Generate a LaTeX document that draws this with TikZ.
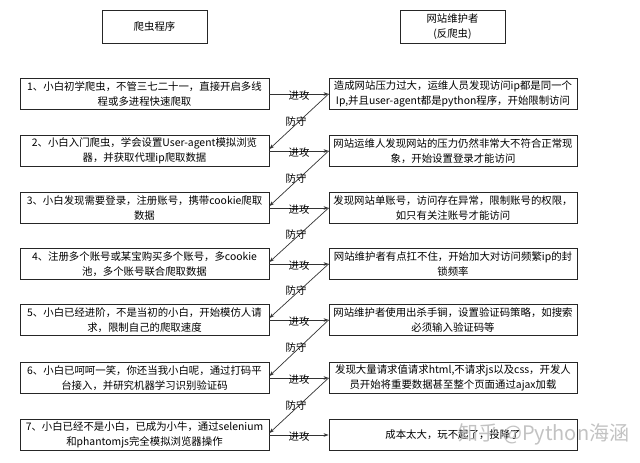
\documentclass[tikz,border=0pt]{standalone}
\usepackage{fontspec}
\setmainfont{Noto Sans CJK SC}
\usetikzlibrary{arrows.meta}
\begin{document}
\begin{tikzpicture}[x=1pt,y=-1pt,
  font=\fontsize{10.4}{14.5}\selectfont,
  box/.style={draw=black!85, line width=0.9pt, inner sep=0pt, align=center, fill=white},
  lbox/.style={box, minimum width=249pt, minimum height=31pt},
  rbox/.style={box, minimum width=248pt, minimum height=31pt},
  hbox/.style={box, minimum width=105pt, minimum height=33pt},
  conn/.style={-{Stealth[length=5pt,width=3.6pt]}, line width=0.7pt, draw=black!80},
  lab/.style={font=\fontsize{10.4}{12}\selectfont, inner sep=1pt}]
\useasboundingbox[fill=white] (0,0) rectangle (640,463);

\node[hbox] (H1) at (154.5,26.5) {爬虫程序};
\node[hbox] (H2) at (452.5,26.5) {网站维护者\\(反爬虫)};

\node[lbox] (L1) at (144.5,94) {1、小白初学爬虫，不管三七二十一，直接开启多线\\程或多进程快速爬取};
\node[rbox] (R1) at (453,94) {造成网站压力过大，运维人员发现访问ip都是同一个\\Ip,并且user-agent都是python程序，开始限制访问};

\node[lbox] (L2) at (144.5,151) {2、小白入门爬虫，学会设置User-agent模拟浏览\\器，并获取代理ip爬取数据};
\node[rbox] (R2) at (453,151) {网站运维人发现网站的压力仍然非常大不符合正常现\\象，开始设置登录才能访问};

\node[lbox] (L3) at (144.5,208) {3、小白发现需要登录，注册账号，携带cookie爬取\\数据};
\node[rbox] (R3) at (453,208) {发现网站单账号，访问存在异常，限制账号的权限，\\如只有关注账号才能访问};

\node[lbox] (L4) at (144.5,264) {4、注册多个账号或某宝购买多个账号，多cookie\\池，多个账号联合爬取数据};
\node[rbox] (R4) at (453,264) {网站维护者有点扛不住，开始加大对访问频繁ip的封\\锁频率};

\node[lbox] (L5) at (144.5,320) {5、小白已经进阶，不是当初的小白，开始模仿人请\\求，限制自己的爬取速度};
\node[rbox] (R5) at (453,320) {网站维护者使用出杀手锏，设置验证码策略，如搜索\\必须输入验证码等};

\node[lbox] (L6) at (144.5,378) {6、小白已呵呵一笑，你还当我小白呢，通过打码平\\台接入，并研究机器学习识别验证码};
\node[rbox] (R6) at (453,378) {发现大量请求值请求html,不请求js以及css，开发人\\员开始将重要数据甚至整个页面通过ajax加载};

\node[lbox] (L7) at (144.5,435) {7、小白已经不是小白，已成为小牛，通过selenium\\和phantomjs完全模拟浏览器操作};
\node[rbox] (R7) at (453,435) {成本太大，玩不起了，投降了};

\foreach \i in {1,...,7}{
  \draw[conn] (L\i.east) -- node[lab, yshift=-2pt]{进攻} (R\i.west);
}
\foreach \i/\j in {1/2,2/3,3/4,4/5,5/6,6/7}{
  \draw[conn] (R\i.west) -- node[lab, xshift=-3pt]{防守} ([yshift=2pt]L\j.east);
}

\node[text=black!28, opacity=0.85, font=\fontsize{20}{20}\selectfont, inner sep=0pt] (wm) at (544,434) {知乎 @Python海涵};
\end{tikzpicture}
\end{document}
